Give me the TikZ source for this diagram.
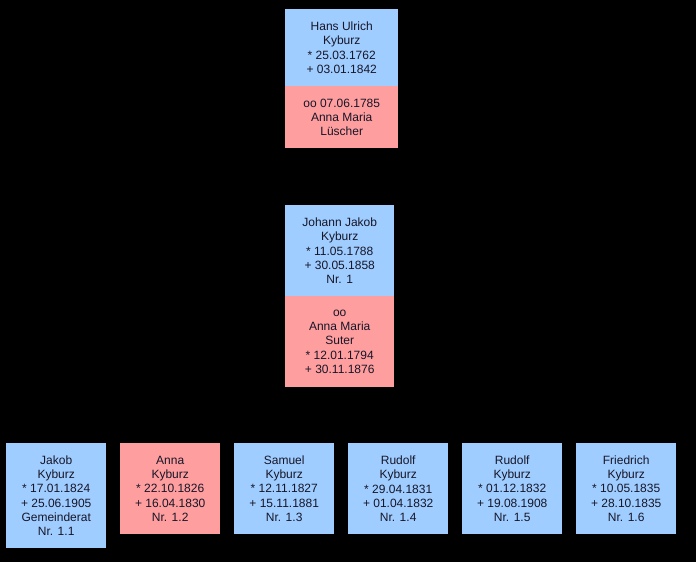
\documentclass[tikz,border=0pt]{standalone}
\usepackage{fontspec}
\setmainfont{Liberation Sans}
\definecolor{manblue}{RGB}{160,205,255}
\definecolor{wifered}{RGB}{255,158,158}
\definecolor{txt}{RGB}{22,22,40}

\begin{document}
\begin{tikzpicture}[
    x=1pt,y=-1pt,
    box/.style={anchor=north west,inner sep=0pt,align=center,text=txt,
      font=\fontsize{12}{14.2}\selectfont},
    man/.style={box,fill=manblue},
    wife/.style={box,fill=wifered},
    kid/.style={minimum width=100,minimum height=91}
    ]
    \fill[black] (0,0) rectangle (696,562);
    \useasboundingbox (0,0) rectangle (696,562);
    % first generation
    \node[man,minimum width=113,minimum height=77] (hans) at (285,9)
      {Hans Ulrich\\Kyburz\\* 25.03.1762\\+ 03.01.1842};
    \node[wife,minimum width=113,minimum height=62] (luescher) at (285,86)
      {oo 07.06.1785\\Anna Maria\\Lüscher};
    % second generation
    \node[man,minimum width=109,minimum height=91] (johann) at (285,205)
      {Johann Jakob\\Kyburz\\* 11.05.1788\\+ 30.05.1858\\Nr. 1};
    \node[wife,minimum width=109,minimum height=91] (suter) at (285,296)
      {oo\\Anna Maria\\Suter\\* 12.01.1794\\+ 30.11.1876};
    % children
    \node[man,kid,minimum height=105] (jakob) at (6,443)
      {Jakob\\Kyburz\\* 17.01.1824\\+ 25.06.1905\\Gemeinderat\\Nr. 1.1};
    \node[wife,kid] (anna) at (120,443)
      {Anna\\Kyburz\\* 22.10.1826\\+ 16.04.1830\\Nr. 1.2};
    \node[man,kid] (samuel) at (234,443)
      {Samuel\\Kyburz\\* 12.11.1827\\+ 15.11.1881\\Nr. 1.3};
    \node[man,kid] (rudolfa) at (348,443)
      {Rudolf\\Kyburz\\* 29.04.1831\\+ 01.04.1832\\Nr. 1.4};
    \node[man,kid] (rudolfb) at (462,443)
      {Rudolf\\Kyburz\\* 01.12.1832\\+ 19.08.1908\\Nr. 1.5};
    \node[man,kid] (friedrich) at (576,443)
      {Friedrich\\Kyburz\\* 10.05.1835\\+ 28.10.1835\\Nr. 1.6};
\end{tikzpicture}
\end{document}
